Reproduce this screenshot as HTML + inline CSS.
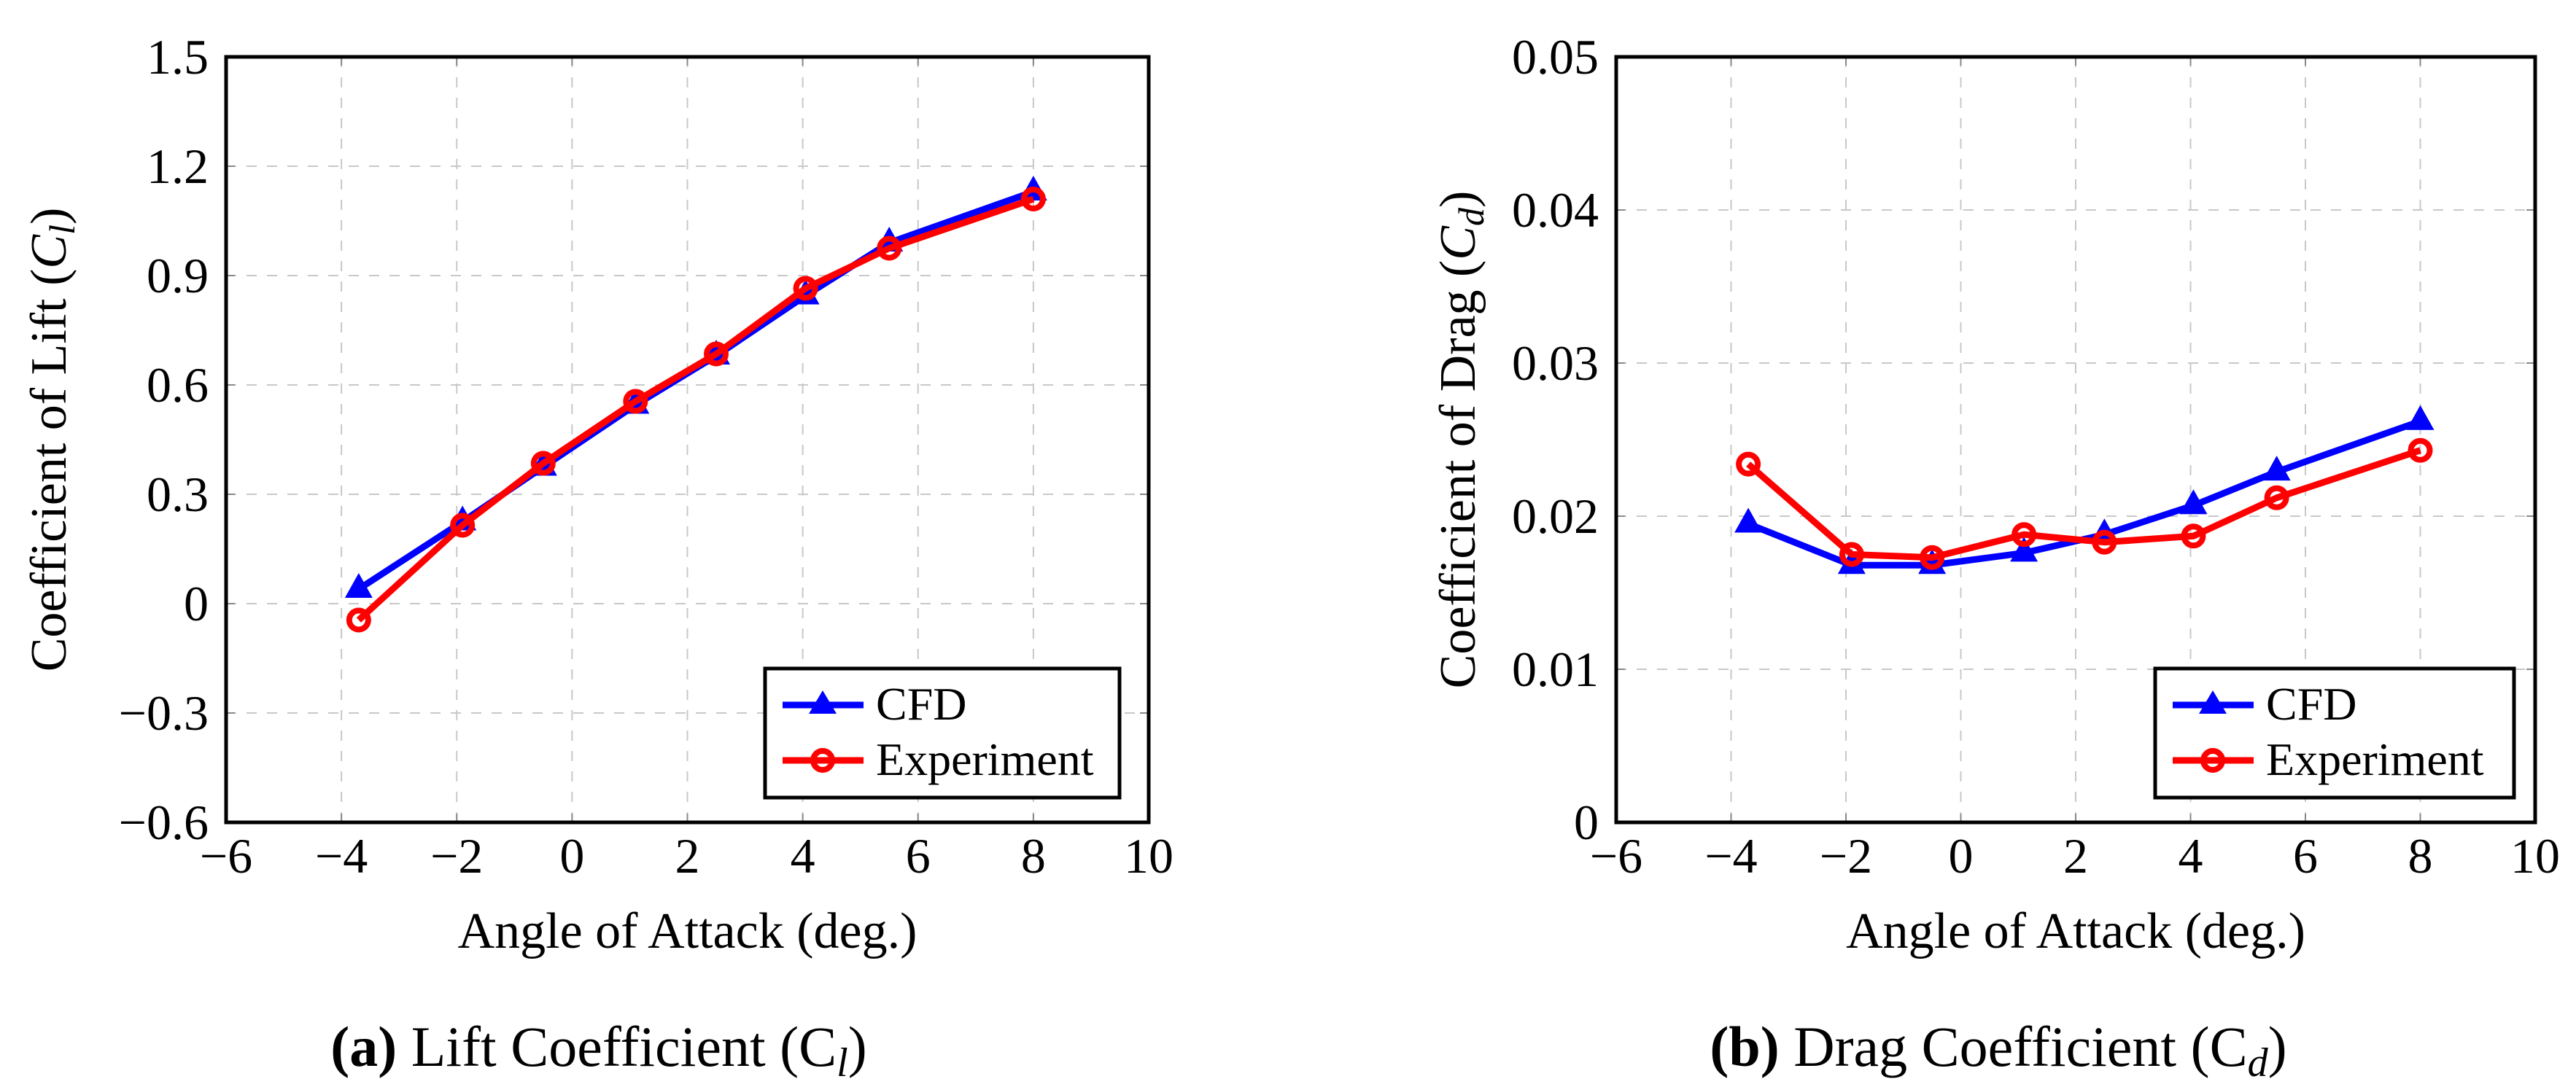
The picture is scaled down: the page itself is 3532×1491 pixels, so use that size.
<!DOCTYPE html>
<html><head><meta charset="utf-8"><style>
html,body{margin:0;padding:0;background:#fff;}
svg{display:block;font-family:"Liberation Serif",serif;}
</style></head><body>
<svg id="fig" width="3532" height="1491" viewBox="0 0 3532 1491" xmlns="http://www.w3.org/2000/svg"></svg>
<script>
const xTicks=[-6,-4,-2,0,2,4,6,8,10];
const xTickLabels=['\u22126','\u22124','\u22122','0','2','4','6','8','10'];
const alpha=[-3.7,-1.9,-0.5,1.1,2.5,4.05,5.5,8];
const liftCFD=[0.04,0.225,0.375,0.545,0.68,0.845,0.99,1.13];
const liftExp=[-0.045,0.215,0.385,0.555,0.685,0.865,0.975,1.11];
const dragCFD=[0.0195,0.0168,0.0168,0.0176,0.0188,0.0207,0.0229,0.0262];
const dragExp=[0.0234,0.0175,0.0173,0.0188,0.0183,0.0187,0.0212,0.0243];
const liftYTicks=[-0.6,-0.3,0,0.3,0.6,0.9,1.2,1.5];
const liftYLabels=['\u22120.6','\u22120.3','0','0.3','0.6','0.9','1.2','1.5'];
const dragYTicks=[0,0.01,0.02,0.03,0.04,0.05];
const dragYLabels=['0','0.01','0.02','0.03','0.04','0.05'];

const NS='http://www.w3.org/2000/svg';
const svg=document.getElementById('fig');
function mk(tag,attrs,parent){const e=document.createElementNS(NS,tag);for(const k in attrs)e.setAttribute(k,attrs[k]);(parent||svg).appendChild(e);return e;}

function panel(o){
  const g=mk('g',{});
  
  
  const L=o.left,R=o.right,T=78,B=1128;
  const sx=v=>L+(v-(-6))/(16)*(R-L);
  const sy=v=>B-(v-o.ymin)/(o.ymax-o.ymin)*(B-T);
  // grid
  xTicks.forEach((t,i)=>{
    if(i>0&&i<xTicks.length-1){const l=mk('line',{x1:sx(t),x2:sx(t),y1:T,y2:B,stroke:'#c8c8c8','stroke-width':2,'stroke-dasharray':'14 14'},g);
    }
    const tx=mk('text',{x:sx(t),y:1197,'font-size':68,'text-anchor':'middle'},g);tx.textContent=xTickLabels[i];
    
    mk('line',{x1:sx(t),x2:sx(t),y1:B,y2:B-12,stroke:'#888','stroke-width':2},g);
    mk('line',{x1:sx(t),x2:sx(t),y1:T,y2:T+12,stroke:'#888','stroke-width':2},g);
  });
  o.yt.forEach((t,i)=>{
    if(i>0&&i<o.yt.length-1){const l=mk('line',{x1:L,x2:R,y1:sy(t),y2:sy(t),stroke:'#c8c8c8','stroke-width':2,'stroke-dasharray':'14 14'},g);
    }
    const tx=mk('text',{x:L-24,y:sy(t)+23,'font-size':68,'text-anchor':'end'},g);tx.textContent=o.yl[i];
    
    mk('line',{x1:L,x2:L+12,y1:sy(t),y2:sy(t),stroke:'#888','stroke-width':2},g);
    mk('line',{x1:R,x2:R-12,y1:sy(t),y2:sy(t),stroke:'#888','stroke-width':2},g);
  });
  // series
  function series(vals,color,marker,nm){
    const pts=alpha.map((a,i)=>sx(a)+','+sy(vals[i])).join(' ');
    const pl=mk('polyline',{points:pts,fill:'none',stroke:color,'stroke-width':9,'stroke-linejoin':'round'},g);
    
    alpha.forEach((a,i)=>{
      const x=sx(a),y=sy(vals[i]);let m;
      if(marker==='tri') m=mk('polygon',{points:`${x},${y-22} ${x-19},${y+12} ${x+19},${y+12}`,fill:color},g);
      else m=mk('circle',{cx:x,cy:y,r:13,fill:'none',stroke:color,'stroke-width':8},g);
      
    });
  }
  series(o.cfd,'#0000ff','tri','cfd');
  series(o.exp,'#ff0000','circ','experiment');
  const fr=mk('rect',{x:L,y:T,width:R-L,height:B-T,fill:'none',stroke:'#000','stroke-width':5},g);
  
  // legend
  const lg=mk('g',{},g);
  
  const lx=o.legX;
  mk('rect',{x:lx,y:917,width:o.legW,height:177,fill:'#fff',stroke:'#000','stroke-width':5},lg);
  mk('line',{x1:lx+24,x2:lx+135,y1:967,y2:967,stroke:'#0000ff','stroke-width':9},lg);
  mk('polygon',{points:`${lx+79},${947} ${lx+60},${979} ${lx+98},${979}`,fill:'#0000ff'},lg);
  mk('line',{x1:lx+24,x2:lx+135,y1:1043,y2:1043,stroke:'#ff0000','stroke-width':9},lg);
  mk('circle',{cx:lx+79,cy:1043,r:13,fill:'none',stroke:'#ff0000','stroke-width':8},lg);
  const t1=mk('text',{x:lx+152,y:987,'font-size':64},lg);t1.textContent='CFD';
  
  const t2=mk('text',{x:lx+152,y:1063,'font-size':64},lg);t2.textContent='Experiment';
  
  // labels
  const xl=mk('text',{x:(L+R)/2,y:1300,'font-size':70,'text-anchor':'middle'},g);xl.textContent='Angle of Attack (deg.)';
  
  const yl=mk('text',{x:0,y:0,'font-size':70,'text-anchor':'middle',transform:`translate(${o.ylx},${(T+B)/2}) rotate(-90)`},g);
  yl.innerHTML=o.ylabel;
  
  const cp=mk('text',{x:o.capx,y:1462,'font-size':78,'text-anchor':'middle'},g);cp.innerHTML=o.cap;
  
}
panel({name:'lift-chart',left:310,right:1575,ymin:-0.6,ymax:1.5,yt:liftYTicks,yl:liftYLabels,cfd:liftCFD,exp:liftExp,legX:1049,legW:486,ylx:90,
  ylabel:'Coefficient of Lift (<tspan font-style="italic">C</tspan><tspan font-style="italic" font-size="50" dy="12">l</tspan><tspan dy="-12">)</tspan>',
  capx:821,cap:'<tspan font-weight="bold">(a)</tspan> Lift Coefficient (C<tspan font-style="italic" font-size="56" dy="14">l</tspan><tspan dy="-14">)</tspan>'});
panel({name:'drag-chart',left:2216,right:3476,ymin:0,ymax:0.05,yt:dragYTicks,yl:dragYLabels,cfd:dragCFD,exp:dragExp,legX:2955,legW:492,ylx:2022,
  ylabel:'Coefficient of Drag (<tspan font-style="italic">C</tspan><tspan font-style="italic" font-size="50" dy="12">d</tspan><tspan dy="-12">)</tspan>',
  capx:2740,cap:'<tspan font-weight="bold">(b)</tspan> Drag Coefficient (C<tspan font-style="italic" font-size="56" dy="14">d</tspan><tspan dy="-14">)</tspan>'});
</script>
</body></html>
